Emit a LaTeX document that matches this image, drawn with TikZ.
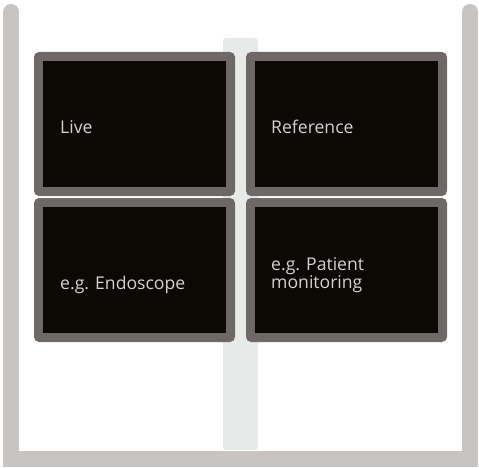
\documentclass[tikz,border=0pt]{standalone}
\usepackage{fontspec}
\setmainfont{Open Sans}
\begin{document}
\begin{tikzpicture}[x=1pt,y=-1pt,
  framec/.style={line width=16pt, draw=framegray, line cap=round, line join=miter},
  bezel/.style={fill=bezelgray, rounded corners=5pt},
  screen/.style={fill=screenblack},
  lbl/.style={anchor=base west, inner sep=0pt, text=labelgray, font=\fontsize{17.6}{18}\selectfont, align=left}]
\definecolor{framegray}{HTML}{C8C4C2}
\definecolor{polegray}{HTML}{E8EAEA}
\definecolor{bezelgray}{HTML}{6E6866}
\definecolor{screenblack}{HTML}{0C0904}
\definecolor{labelgray}{HTML}{D2D2D2}
\useasboundingbox (0,0) rectangle (479,468);
\fill[white] (0,0) rectangle (479,468);
% stand frame
\draw[framec] (11.3,12) -- (11.3,459) -- (470,459) -- (470,12);
% pole
\fill[polegray, rounded corners=3pt] (223,38) -- (223,450) -- (258,450) -- (258,38) -- cycle;
% monitors
\foreach \n/\x/\y in {tl/34/52, tr/246/52, bl/34/198, br/246/198}{
  \fill[bezel] (\x,\y) rectangle ++(201,144);
  \fill[screen] (\x+9,\y+9) rectangle ++(183,126);
}
\node[lbl] (live) at (60,133) {Live};
\node[lbl] (ref) at (271,133) {Reference};
\node[lbl] (endo) at (60,289) {e.g. Endoscope};
\node[lbl] (pat) at (271,288) {e.g. Patient\\monitoring};
\end{tikzpicture}
\end{document}
